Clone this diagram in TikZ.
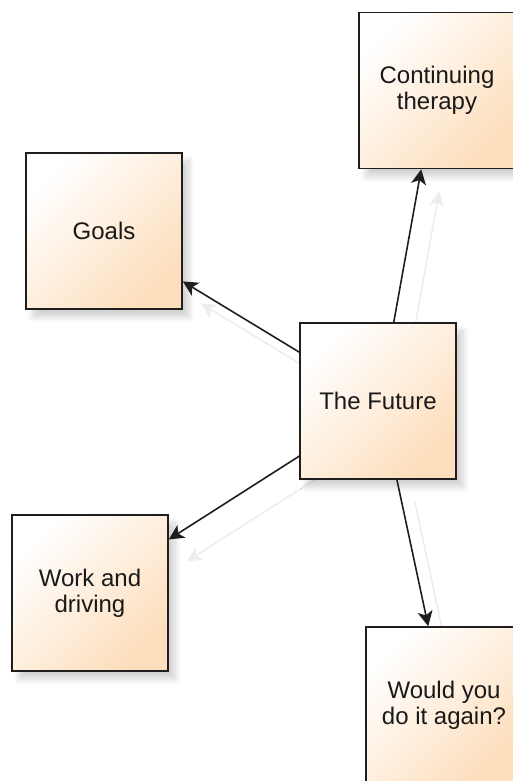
\documentclass[tikz,border=0pt]{standalone}
\usepackage{fontspec}
\setmainfont{Liberation Sans}
\usetikzlibrary{arrows.meta,calc,shadows.blur,backgrounds}
\definecolor{peach}{RGB}{253,222,188}
\definecolor{edge}{RGB}{30,30,30}
\tikzset{
  topic/.style={draw=edge, line width=1.6pt, minimum width=156pt, minimum height=156pt,
    inner sep=0pt, align=center, text=black!90,
    font=\fontsize{24}{26}\selectfont,
    top color=white, bottom color=peach, shading angle=45,
    blur shadow={shadow xshift=7pt, shadow yshift=-8pt, shadow blur steps=8, shadow opacity=18, shadow blur radius=6pt}},
  link/.style={draw=edge, line width=1.6pt, -{Stealth[length=15pt,width=15pt,inset=4pt]}},
  ghost/.style={draw=black!7, line width=1.6pt, -{Stealth[length=15pt,width=15pt,inset=4pt]}}
}
\begin{document}
\begin{tikzpicture}[x=1pt,y=1pt]
\useasboundingbox (0,0) rectangle (512,781);
\node[topic] (cont) at (437,690.5) {Continuing\\therapy};
\node[topic] (goals) at (104,550) {Goals};
\node[topic] (fut) at (378,380) {The Future};
\node[topic] (work) at (90,188) {Work and\\driving};
\node[topic] (would) at (444,76) {Would you\\do it again?};
% attachment points
\coordinate (fT) at ($(fut.north west)!0.6!(fut.north east)$);
\coordinate (fL1) at ($(fut.north west)!0.19!(fut.south west)$);
\coordinate (fL2) at ($(fut.north west)!0.85!(fut.south west)$);
\coordinate (fB) at ($(fut.south west)!0.62!(fut.south east)$);
\coordinate (cB) at ($(cont.south west)!0.40!(cont.south east)$);
\coordinate (gR) at ($(goals.north east)!0.82!(goals.south east)$);
\coordinate (wR) at ($(work.north east)!0.16!(work.south east)$);
\coordinate (dT) at ($(would.north west)!0.40!(would.north east)$);
\begin{pgfonlayer}{background}
\begin{scope}[transform canvas={shift={(18pt,-22pt)}}]
\draw[ghost] (fT) -- (cB);
\draw[ghost] (fL1) -- (gR);
\draw[ghost] (fL2) -- (wR);
\draw[ghost] (fB) -- (dT);
\end{scope}
\end{pgfonlayer}
\draw[link] (fT) -- (cB);
\draw[link] (fL1) -- (gR);
\draw[link] (fL2) -- (wR);
\draw[link] (fB) -- (dT);
\end{tikzpicture}
\end{document}
